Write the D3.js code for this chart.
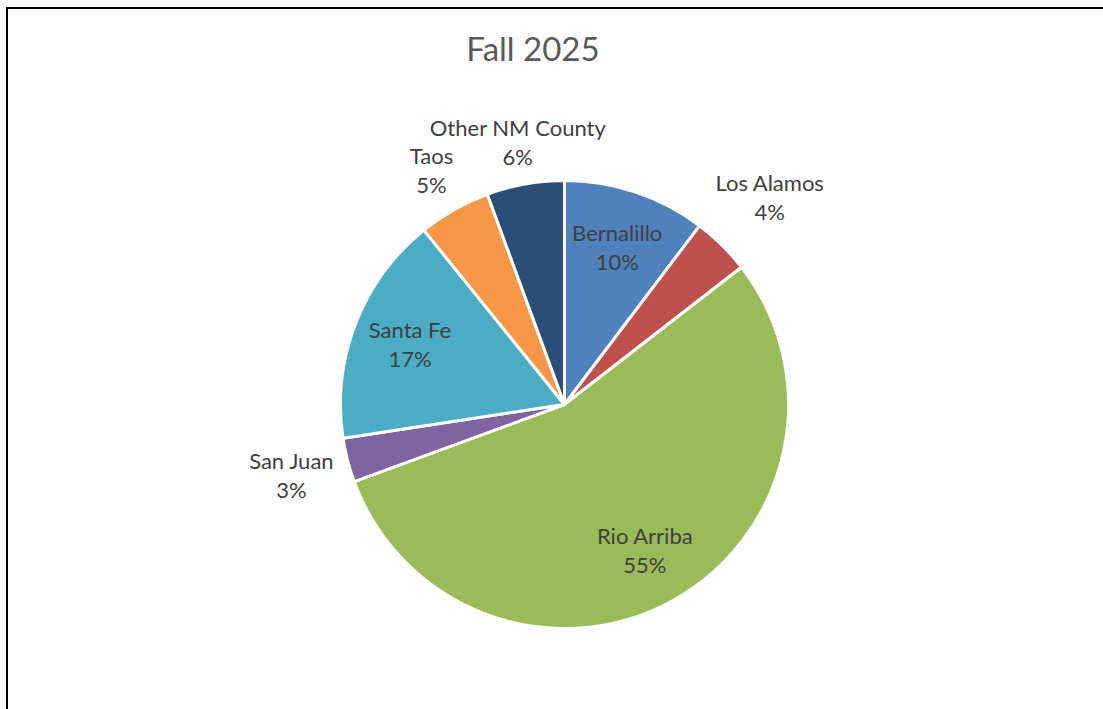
<!DOCTYPE html>
<html>
  <head>
    <meta charset="utf-8">
    <title>Fall 2025</title>
    <script type="text/javascript" src="https://cdn.jsdelivr.net/npm/d3@7"></script>
    <style>
    body {
      margin: 0;
      background: #fff;
    }
    .label {
      font-family: Lato, "Open Sans", sans-serif;
      font-size: 22px;
      fill: #404040;
    }
    .title {
      font-family: Lato, "Open Sans", sans-serif;
      font-size: 33px;
      fill: #595959;
    }
    </style>
  </head>
  <body>
    <div id="chart"></div>
    <script type="text/javascript">

      // counties, clockwise from 12 o'clock
      var counties = ['Bernalillo', 'Los Alamos', 'Rio Arriba', 'San Juan', 'Santa Fe', 'Taos', 'Other NM County'];
      var shares = [10.3, 4.2, 54.9, 3.2, 16.6, 5.2, 5.6];
      var colors = ['#4f81bd', '#c0504d', '#9bbb59', '#8064a2', '#4bacc6', '#f79646', '#2c4d75'];
      // which labels sit inside the slice
      var inside = [true, false, true, false, true, false, false];

      var width = 1103,
          height = 709;
      var cx = 564.5, cy = 404.5, radius = 224;
      var lineGap = 29;

      var data = counties.map(function(c, i) {
        return {county: c, value: shares[i], inside: inside[i]};
      });
      var total = d3.sum(shares);

      var color = d3.scaleOrdinal().domain(counties).range(colors);

      var svg = d3.select('#chart')
        .append('svg')
        .attr('width', width)
        .attr('height', height);

      // frame
      svg.append('path')
        .attr('d', 'M7,' + height + 'V8H' + width)
        .attr('fill', 'none')
        .attr('stroke', '#000')
        .attr('stroke-width', 2);

      svg.append('text')
        .attr('class', 'title')
        .attr('x', 533)
        .attr('y', 61)
        .attr('text-anchor', 'middle')
        .text('Fall 2025');

      var g = svg.append('g')
        .attr('transform', 'translate(' + cx + ',' + cy + ')');

      var pie = d3.pie()
        .value(function(d) { return d.value; })
        .sort(null);
      var arc = d3.arc()
        .innerRadius(0)
        .outerRadius(radius);

      var arcs = pie(data);

      g.selectAll('path')
        .data(arcs)
        .enter()
        .append('path')
        .attr('d', arc)
        .attr('fill', function(d) { return color(d.data.county); })
        .attr('stroke', '#fff')
        .attr('stroke-width', 3)
        .attr('stroke-linejoin', 'round');

      var labels = g.selectAll('.lbl')
        .data(arcs)
        .enter()
        .append('text')
        .attr('class', 'label')
        .attr('text-anchor', 'middle');

      labels.append('tspan')
        .attr('x', 0)
        .attr('dy', 0)
        .text(function(d) { return d.data.county; });
      labels.append('tspan')
        .attr('x', 0)
        .attr('dy', lineGap)
        .text(function(d) { return Math.round(d.data.value / total * 100) + '%'; });

      labels.each(function(d) {
        var t = d3.select(this);
        var bb = this.getBBox();
        var w = bb.width, h = bb.height;
        var mid = (d.startAngle + d.endAngle) / 2;
        var sx = Math.sin(mid), sy = -Math.cos(mid);
        var px, py;
        if (d.data.inside) {
          var rr = radius * 0.74;
          px = sx * rr; py = sy * rr;
        } else {
          // push the label box outward until it clears the pie
          var dist = radius;
          for (var k = 0; k < 400; k++) {
            px = sx * dist; py = sy * dist;
            var nx = Math.max(Math.abs(px) - w / 2, 0);
            var ny = Math.max(Math.abs(py) - h / 2, 0);
            if (Math.sqrt(nx * nx + ny * ny) >= radius + 10) break;
            dist += 1;
          }
        }
        // centre the two-line block on (px, py)
        var offY = py - (bb.y + h / 2);
        t.attr('transform', 'translate(' + px + ',' + offY + ')');
      });

    </script>
  </body>
</html>
